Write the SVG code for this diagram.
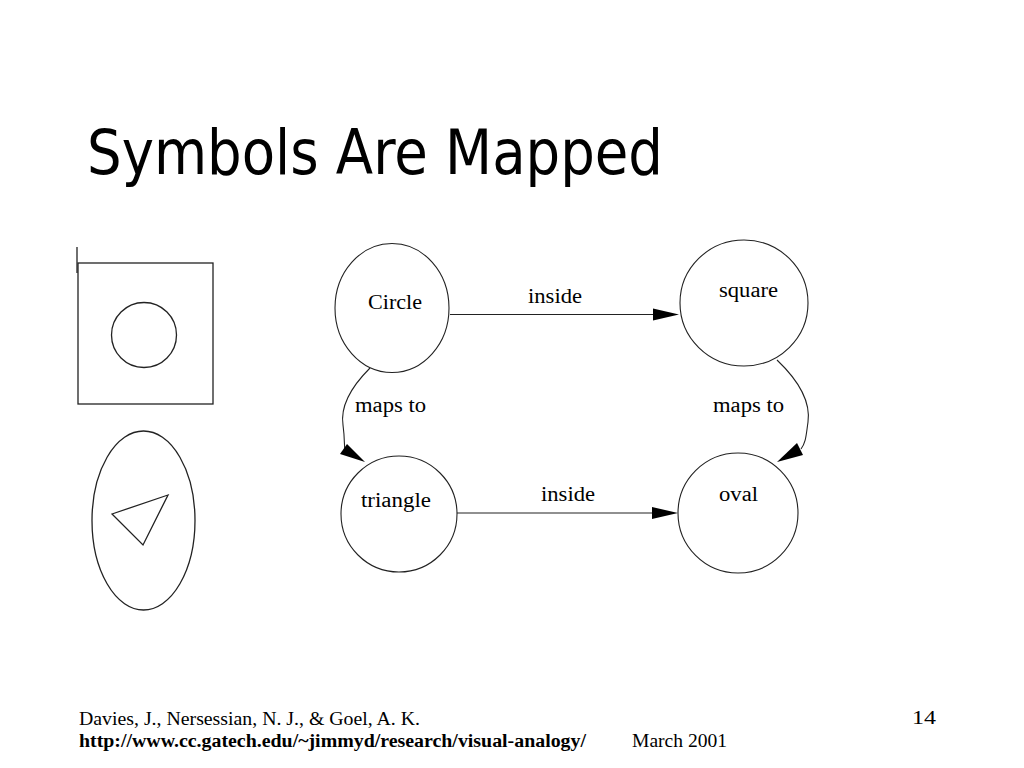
<svg xmlns="http://www.w3.org/2000/svg" width="1024" height="768" viewBox="0 0 1024 768">
<style>
.bg{fill:#ffffff}
.title{font-family:"DejaVu Sans Condensed","DejaVu Sans",sans-serif;font-stretch:condensed;font-size:63px;fill:#000}
.node{fill:none;stroke:#222;stroke-width:1.1}
.lbl{font-family:"Liberation Serif","Times New Roman",serif;font-size:20px;fill:#000}
.edge{fill:none;stroke:#222;stroke-width:1.1}
.head{fill:#000;stroke:none}
.fig{fill:none;stroke:#222;stroke-width:1.3}
.foot{font-family:"Liberation Serif","Times New Roman",serif;font-size:18px;fill:#000}
.bold{font-weight:bold}
</style>
<rect class="bg" x="0" y="0" width="1024" height="768"/>
<text class="title" x="87" y="174" textLength="576" lengthAdjust="spacingAndGlyphs">Symbols Are Mapped</text>

<g id="figures">
<line class="fig" x1="77" y1="247" x2="77" y2="273"/>
<rect class="fig" x="78" y="263" width="135" height="141"/>
<circle class="fig" cx="144" cy="335" r="32.5"/>
<ellipse class="fig" cx="143.5" cy="520.5" rx="51.5" ry="89.5"/>
<polygon class="fig" points="112,514 168,495 143,545"/>
</g>

<g id="connectors">
<line class="edge" x1="450" y1="314.5" x2="655" y2="314.5"/>
<polygon class="head" points="653,308.5 679,314.5 653,320.5"/>
<line class="edge" x1="457" y1="513" x2="654" y2="513"/>
<polygon class="head" points="652,507 678,513 652,519"/>
<path class="edge" d="M370,368 C352,386 340,405 343,425 C345,440 344,446 345,450"/>
<polygon class="head" points="340,454 347,444 365,462"/>
<path class="edge" d="M777,360 C798,380 811,400 808,422 C806,436 806,442 801,449"/>
<polygon class="head" points="797,443 803,455 777,462"/>
<text class="lbl" x="528" y="303" textLength="54" lengthAdjust="spacingAndGlyphs">inside</text>
<text class="lbl" x="541" y="501" textLength="54" lengthAdjust="spacingAndGlyphs">inside</text>
<text class="lbl" x="355" y="412" textLength="71" lengthAdjust="spacingAndGlyphs">maps to</text>
<text class="lbl" x="713" y="412" textLength="71" lengthAdjust="spacingAndGlyphs">maps to</text>
</g>

<g id="node-circle">
<ellipse class="node" cx="392" cy="308" rx="57" ry="64.5"/>
<text class="lbl" x="368" y="309" textLength="54" lengthAdjust="spacingAndGlyphs">Circle</text>
</g>
<g id="node-square">
<ellipse class="node" cx="744" cy="303" rx="64" ry="63"/>
<text class="lbl" x="719" y="297" textLength="59" lengthAdjust="spacingAndGlyphs">square</text>
</g>
<g id="node-triangle">
<ellipse class="node" cx="399" cy="514" rx="58" ry="58"/>
<text class="lbl" x="361" y="507" textLength="70" lengthAdjust="spacingAndGlyphs">triangle</text>
</g>
<g id="node-oval">
<ellipse class="node" cx="738" cy="513" rx="60" ry="60"/>
<text class="lbl" x="719" y="501" textLength="39" lengthAdjust="spacingAndGlyphs">oval</text>
</g>

<g id="footer">
<text class="foot" x="79" y="725" textLength="341" lengthAdjust="spacingAndGlyphs">Davies, J., Nersessian, N. J., &amp; Goel, A. K.</text>
<text class="foot bold" x="79" y="747" textLength="507" lengthAdjust="spacingAndGlyphs">http://www.cc.gatech.edu/~jimmyd/research/visual-analogy/</text>
<text class="foot" x="632" y="747" textLength="95" lengthAdjust="spacingAndGlyphs">March 2001</text>
<text class="foot" x="912" y="724" font-size="17" textLength="24" lengthAdjust="spacingAndGlyphs">14</text>
</g>
</svg>
